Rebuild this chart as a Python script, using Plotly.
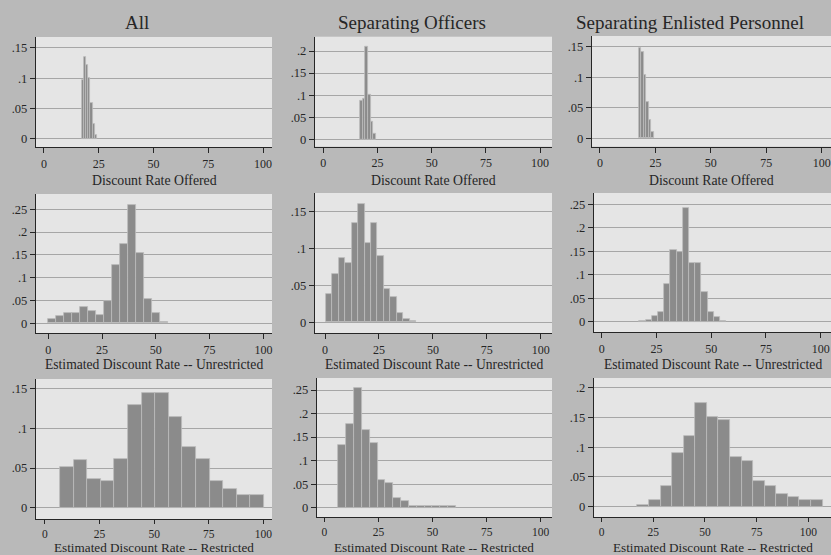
import plotly.graph_objects as go

W, H = 831, 555

# ---------------- data ----------------
col_titles = ["All", "Separating Officers", "Separating Enlisted Personnel"]
row_xtitles = ["Discount Rate Offered",
               "Estimated Discount Rate -- Unrestricted",
               "Estimated Discount Rate -- Restricted"]

# Row 1: discount rate offered
all_off_start, all_off_width = 17.2, 1.0
all_off_h = [0.097, 0.135, 0.122, 0.100, 0.060, 0.025, 0.006]

off_off_start, off_off_width = 17.0, 1.2
off_off_h = [0.088, 0.092, 0.210, 0.100, 0.040, 0.012]

enl_off_start, enl_off_width = 17.6, 1.1
enl_off_h = [0.148, 0.142, 0.104, 0.060, 0.030, 0.010]

# Row 2: estimated discount rate, unrestricted
all_unr_start, all_unr_width = 0.0, 3.72
all_unr_h = [0.0095, 0.016, 0.023, 0.023, 0.035, 0.028, 0.018, 0.049,
             0.128, 0.175, 0.260, 0.154, 0.053, 0.022, 0.002]

off_unr_start, off_unr_width = 0.3, 3.0
off_unr_h = [0.039, 0.065, 0.087, 0.080, 0.135, 0.160, 0.107, 0.135,
             0.090, 0.045, 0.035, 0.013, 0.005, 0.002]

enl_unr_start, enl_unr_width = 17.2, 2.83
enl_unr_h = [0.0015, 0.003, 0.013, 0.021, 0.080, 0.153, 0.148, 0.243,
             0.126, 0.124, 0.064, 0.021, 0.009, 0.0015]

# Row 3: estimated discount rate, restricted
all_res_start, all_res_width = 6.87, 6.23
all_res_h = [0.051, 0.060, 0.036, 0.034, 0.062, 0.130, 0.145, 0.145,
             0.115, 0.077, 0.061, 0.034, 0.024, 0.016, 0.016]

off_res_start, off_res_width = 6.5, 3.62
off_res_h = [0.133, 0.177, 0.255, 0.165, 0.137, 0.059, 0.052, 0.020,
             0.014, 0.004, 0.004, 0.003, 0.003, 0.003, 0.003]

enl_res_start, enl_res_width = 17.3, 5.6
enl_res_h = [0.003, 0.011, 0.034, 0.091, 0.118, 0.175, 0.150, 0.145,
             0.084, 0.076, 0.043, 0.034, 0.022, 0.017, 0.011, 0.011]

x_tickvals = [0, 25, 50, 75, 100]
x_ticktext = ["0", "25", "50", "75", "100"]
y_ticks_15 = ([0, 0.05, 0.1, 0.15], ["0", ".05", ".1", ".15"])
y_ticks_20 = ([0, 0.05, 0.1, 0.15, 0.2], ["0", ".05", ".1", ".15", ".2"])
y_ticks_25 = ([0, 0.05, 0.1, 0.15, 0.2, 0.25], ["0", ".05", ".1", ".15", ".2", ".25"])

panels = [
    (all_off_start, all_off_width, all_off_h, y_ticks_15),
    (off_off_start, off_off_width, off_off_h, y_ticks_20),
    (enl_off_start, enl_off_width, enl_off_h, y_ticks_15),
    (all_unr_start, all_unr_width, all_unr_h, y_ticks_25),
    (off_unr_start, off_unr_width, off_unr_h, y_ticks_15),
    (enl_unr_start, enl_unr_width, enl_unr_h, y_ticks_25),
    (all_res_start, all_res_width, all_res_h, y_ticks_15),
    (off_res_start, off_res_width, off_res_h, y_ticks_25),
    (enl_res_start, enl_res_width, enl_res_h, y_ticks_20),
]

# ---------------- layout (pixel boxes and axis ranges) ----------------
# (left, right, top, bottom) in pixels
boxes = [
    (36, 272, 37, 147), (315, 552, 36.7, 146.7), (592, 831, 36, 146.7),
    (36, 272, 194, 333.3), (315, 552, 193, 333), (594, 831, 193, 332),
    (36, 272, 379, 519), (317, 552, 378, 517), (594, 831, 378, 517),
]
xranges = [
    (-3.65, 104.1), (-3.83, 105.5), (-3.6, 104.2),
    (-5.72, 104.0), (-4.64, 105.2), (-3.52, 104.7),
    (-4.12, 104.0), (-3.37, 105.2), (-3.73, 111.0),
]
yranges = [
    (-0.0132, 0.168), (-0.0168, 0.2324), (-0.0138, 0.1675),
    (-0.0219, 0.2836), (-0.0145, 0.1754), (-0.0219, 0.274),
    (-0.0143, 0.1626), (-0.0198, 0.2755), (-0.0173, 0.2163),
]
xtitle_y = [180, 364, 547]        # px from top, centre of x-axis titles per row
xtitle_size = [13.8, 13.6, 13.2]
xtick_size = [12, 12, 11.5]
xtick_len = [5, 5, 4]

PAPER = "#b9b9b9"
PLOT = "#e5e5e5"
BAR = "#8b8b8b"
BAR_EDGE = "#bdbdbd"
GRID = "#a6a6a6"
INK = "#262626"
FONT = "Liberation Serif"

fig = go.Figure()
layout = dict(
    width=W, height=H,
    margin=dict(l=0, r=0, t=0, b=0),
    paper_bgcolor=PAPER, plot_bgcolor=PLOT,
    showlegend=False, bargap=0,
    font=dict(family=FONT, color=INK, size=12),
)
annotations = []

for i, (start, width, heights, (ytv, ytt)) in enumerate(panels):
    n = i + 1
    row = i // 3
    xa = "x" if n == 1 else f"x{n}"
    ya = "y" if n == 1 else f"y{n}"
    centers = [start + width * (k + 0.5) for k in range(len(heights))]
    fig.add_trace(go.Bar(
        x=centers, y=heights, width=[width] * len(heights),
        marker=dict(color=BAR, line=dict(color=BAR_EDGE, width=0.8)),
        xaxis=xa, yaxis=ya, hoverinfo="x+y",
    ))
    l, r, t, b = boxes[i]
    xkey = "xaxis" if n == 1 else f"xaxis{n}"
    ykey = "yaxis" if n == 1 else f"yaxis{n}"
    layout[xkey] = dict(
        domain=[l / W, r / W], range=list(xranges[i]), anchor=ya,
        tickvals=x_tickvals, ticktext=x_ticktext,
        showgrid=False, zeroline=False,
        showline=True, linecolor=INK, linewidth=1.3,
        ticks="outside", ticklen=xtick_len[row], tickcolor=INK, tickwidth=1.3,
        tickfont=dict(size=xtick_size[row], family=FONT, color=INK),
        fixedrange=True,
    )
    layout[ykey] = dict(
        domain=[1 - b / H, 1 - t / H], range=list(yranges[i]), anchor=xa,
        tickvals=ytv, ticktext=ytt,
        showgrid=True, gridcolor=GRID, gridwidth=1, zeroline=False,
        showline=True, linecolor=INK, linewidth=1.3,
        ticks="outside", ticklen=5, tickcolor=INK, tickwidth=1.3,
        tickfont=dict(size=12.5, family=FONT, color=INK),
        fixedrange=True,
    )
    annotations.append(dict(
        text=row_xtitles[row], xref="paper", yref="paper",
        x=(l + r) / 2 / W, y=1 - xtitle_y[row] / H,
        xanchor="center", yanchor="middle", showarrow=False,
        font=dict(size=xtitle_size[row], family=FONT, color=INK),
    ))

col_centers = [137, 412, 690]
for c, title in enumerate(col_titles):
    annotations.append(dict(
        text=title, xref="paper", yref="paper",
        x=col_centers[c] / W, y=1 - 22 / H,
        xanchor="center", yanchor="middle", showarrow=False,
        font=dict(size=19, family=FONT, color=INK),
    ))

layout["annotations"] = annotations
fig.update_layout(**layout)
fig.write_html(
    "out.html",
    config={"displayModeBar": False},
    post_script="document.body.style.margin='0';document.body.style.overflow='hidden';",
)
